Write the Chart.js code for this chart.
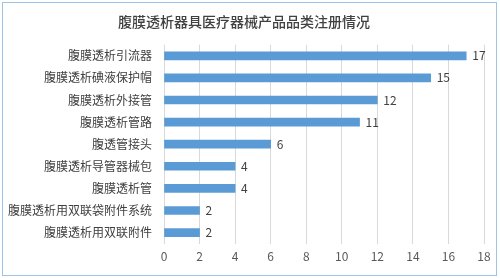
<!DOCTYPE html>
<html>
<head>
<meta charset="utf-8">
<script src="https://cdn.jsdelivr.net/npm/chart.js@4/dist/chart.umd.min.js"></script>
<style>
  html, body { margin: 0; padding: 0; background: #fff; }
  #wrap { position: relative; width: 500px; height: 278px; }
  #frame { position: absolute; left: 2px; top: 2px; width: 493px; height: 272px; border: 1px solid #9DC3E6; pointer-events: none; }
</style>
</head>
<body>
<div id="wrap">
  <canvas id="chart-bar"></canvas>
  <div id="frame"></div>
</div>
<script>
// categories and counts, top to bottom
const categories = [
  '腹膜透析引流器',
  '腹膜透析碘液保护帽',
  '腹膜透析外接管',
  '腹膜透析管路',
  '腹透管接头',
  '腹膜透析导管器械包',
  '腹膜透析管',
  '腹膜透析用双联袋附件系统',
  '腹膜透析用双联附件'
];
const counts = [17, 15, 12, 11, 6, 4, 4, 2, 2];
const xTicks = [0, 2, 4, 6, 8, 10, 12, 14, 16, 18];

const fontFamily = '"Noto Sans CJK SC", "Noto Sans", sans-serif';

// simple value labels at bar ends
const barLabels = {
  id: 'barLabels',
  afterDatasetsDraw(chart) {
    const ctx = chart.ctx;
    const meta = chart.getDatasetMeta(0);
    ctx.save();
    ctx.font = '12px ' + fontFamily;
    ctx.fillStyle = '#404040';
    ctx.textAlign = 'left';
    ctx.textBaseline = 'middle';
    meta.data.forEach((bar, i) => {
      ctx.fillText(String(counts[i]), bar.x + 6, bar.y);
    });
    ctx.restore();
  }
};

const data = {
  labels: categories,
  datasets: [{
    data: counts,
    backgroundColor: '#5B9BD5',
    borderWidth: 0,
    barThickness: 8
  }]
};

const config = {
  type: 'bar',
  data: data,
  options: {
    indexAxis: 'y',
    responsive: true,
    maintainAspectRatio: false,
    animation: false,
    layout: { padding: { left: 4, right: 16, top: 4, bottom: 8 } },
    plugins: {
      legend: { display: false },
      tooltip: { enabled: false },
      title: {
        display: true,
        text: '腹膜透析器具医疗器械产品品类注册情况',
        color: '#404040',
        font: { family: fontFamily, size: 14, weight: 500 },
        padding: { top: 9, bottom: 15 }
      }
    },
    scales: {
      x: {
        min: 0,
        max: 18,
        afterBuildTicks(axis) {
          axis.ticks = xTicks.map(v => ({ value: v }));
        },
        grid: { color: '#D9D9D9', drawTicks: false },
        border: { display: false },
        ticks: {
          color: '#595959',
          font: { family: fontFamily, size: 12 },
          padding: 6
        }
      },
      y: {
        grid: { display: false },
        border: { display: false },
        ticks: {
          color: '#404040',
          font: { family: fontFamily, size: 12 },
          padding: 4
        }
      }
    }
  },
  plugins: [barLabels]
};

new Chart(document.getElementById('chart-bar').getContext('2d'), config);
</script>
</body>
</html>
